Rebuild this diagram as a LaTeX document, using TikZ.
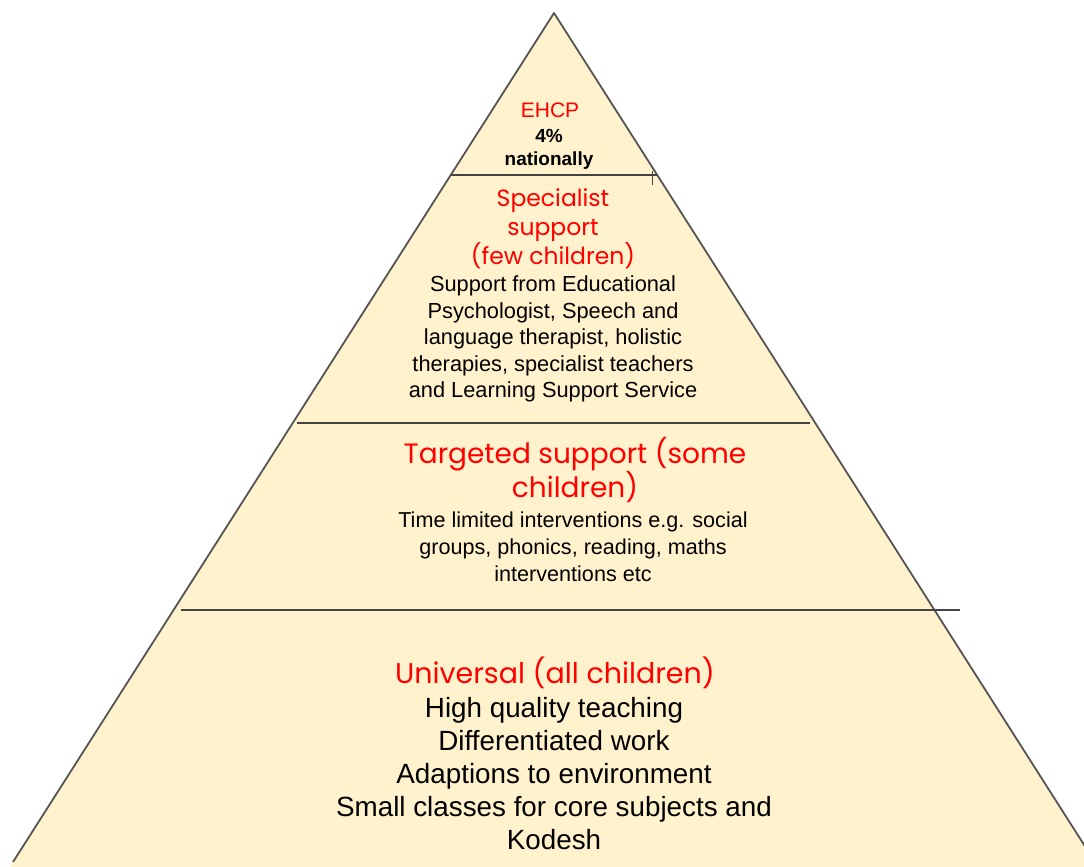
\documentclass[tikz,border=0pt]{standalone}
\usepackage{fontspec}
\setmainfont{Liberation Sans}
\newfontfamily\titlefont{Poppins}
\definecolor{fillc}{HTML}{FFF2CC}
\definecolor{edgec}{HTML}{555555}
\definecolor{redc}{HTML}{FF0000}
\definecolor{linec}{HTML}{444444}
\tikzset{
  txt/.style={inner sep=0pt, align=center, text=black},
  ttl/.style={inner sep=0pt, align=center, text=redc},
  divider/.style={draw=linec, line width=1.5pt},
}
\begin{document}
\begin{tikzpicture}[x=1pt,y=-1pt]
\useasboundingbox (0,0) rectangle (1084,867);
\begin{scope}
\clip (0,0) rectangle (1084,867);
\coordinate (apex) at (554,13);
\coordinate (bl) at (13,862);
\coordinate (br) at (1095,862);
\coordinate (blx) at (7,872);
\coordinate (brx) at (1101,872);
\fill[fillc] (apex) -- (blx) -- (brx) -- cycle;
\draw[edgec, line width=1.8pt, line join=round] (bl) -- (apex) -- (br);
\coordinate (l1a) at (451,175);
\coordinate (l1b) at (657,175);
\coordinate (t1a) at (652,171);
\coordinate (t1b) at (652,185);
\coordinate (l2a) at (297,423);
\coordinate (l2b) at (810,423);
\coordinate (l3a) at (181,610);
\coordinate (l3b) at (960,610);
\draw[divider] (l1a) -- (l1b);
\draw[linec, line width=1pt] (t1a) -- (t1b);
\draw[divider] (l2a) -- (l2b);
\draw[divider] (l3a) -- (l3b);
\end{scope}
\node[ttl, font=\fontsize{21}{24}\selectfont] (ehcp) at (550,110) {EHCP};
\node[txt, font=\bfseries\fontsize{19}{22.5}\selectfont] (nat) at (549,149.5) {4\%\\nationally};
\node[ttl, font=\titlefont\fontsize{23.5}{29}\selectfont] (spect) at (553,229) {Specialist\\support\\(few children)};
\node[txt, font=\fontsize{21.8}{26.5}\selectfont] (specb) at (553,339) {Support from Educational\\Psychologist, Speech and\\language therapist, holistic\\therapies, specialist teachers\\and Learning Support Service};
\node[ttl, font=\titlefont\fontsize{28}{33}\selectfont] (targt) at (575,470) {Targeted support (some\\children)};
\node[txt, font=\fontsize{21.6}{27}\selectfont] (targb) at (573,547) {Time limited interventions e.g. social\\groups, phonics, reading, maths\\interventions etc};
\node[ttl, font=\titlefont\fontsize{28.5}{33}\selectfont] (univt) at (555,673) {Universal (all children)};
\node[txt, font=\fontsize{27.8}{33}\selectfont] (univb) at (554,774) {High quality teaching\\Differentiated work\\Adaptions to environment\\Small classes for core subjects and\\Kodesh};
\end{tikzpicture}
\end{document}
